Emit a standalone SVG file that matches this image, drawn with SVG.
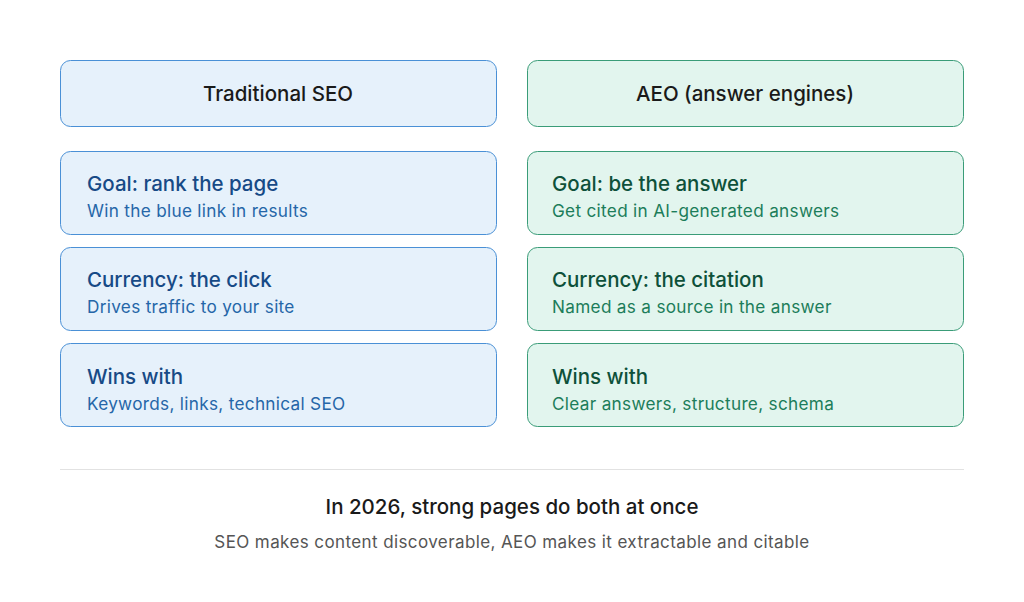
<svg xmlns="http://www.w3.org/2000/svg" width="1024" height="602" viewBox="0 0 1024 602">
<style>
text{font-family:"Inter","Liberation Sans",sans-serif}
.b{fill:#e6f1fb;stroke:#4a90d6;stroke-width:1}
.g{fill:#e2f5ee;stroke:#3a9c78;stroke-width:1}
.h{font-size:20.5px;fill:#1a1a1a;text-anchor:middle;font-weight:500}
.bt{font-size:20.5px;fill:#174a86;font-weight:500}
.bs{font-size:17.2px;fill:#2566a8;letter-spacing:0.3px}
.gt{font-size:20.5px;fill:#0e513a;font-weight:500}
.gs{font-size:17.2px;fill:#1c7d5a;letter-spacing:0.3px}
</style>
<rect width="1024" height="602" fill="#fff"/>
<g id="seo-header"><rect class="b" x="60.5" y="60.5" width="436" height="66" rx="10"/><text class="h" x="278" y="101">Traditional SEO</text></g>
<g id="aeo-header"><rect class="g" x="527.5" y="60.5" width="436" height="66" rx="10"/><text class="h" x="745" y="101">AEO (answer engines)</text></g>
<g id="seo-goal"><rect class="b" x="60.5" y="151.5" width="436" height="83" rx="10"/><text class="bt" x="87" y="191">Goal: rank the page</text><text class="bs" x="87" y="217">Win the blue link in results</text></g>
<g id="aeo-goal"><rect class="g" x="527.5" y="151.5" width="436" height="83" rx="10"/><text class="gt" x="552" y="191">Goal: be the answer</text><text class="gs" x="552" y="217">Get cited in AI-generated answers</text></g>
<g id="seo-currency"><rect class="b" x="60.5" y="247.5" width="436" height="83" rx="10"/><text class="bt" x="87" y="287">Currency: the click</text><text class="bs" x="87" y="313">Drives traffic to your site</text></g>
<g id="aeo-currency"><rect class="g" x="527.5" y="247.5" width="436" height="83" rx="10"/><text class="gt" x="552" y="287">Currency: the citation</text><text class="gs" x="552" y="313">Named as a source in the answer</text></g>
<g id="seo-wins"><rect class="b" x="60.5" y="343.5" width="436" height="83" rx="10"/><text class="bt" x="87" y="384">Wins with</text><text class="bs" x="87" y="410">Keywords, links, technical SEO</text></g>
<g id="aeo-wins"><rect class="g" x="527.5" y="343.5" width="436" height="83" rx="10"/><text class="gt" x="552" y="384">Wins with</text><text class="gs" x="552" y="410">Clear answers, structure, schema</text></g>
<g id="connectors"></g>
<line x1="60" y1="469.5" x2="964" y2="469.5" stroke="#e2e2e2" stroke-width="1"/>
<text x="512" y="514" font-size="20.5" fill="#1a1a1a" text-anchor="middle" font-weight="500">In 2026, strong pages do both at once</text>
<text x="512" y="548" font-size="17" fill="#555" text-anchor="middle" letter-spacing="0.4">SEO makes content discoverable, AEO makes it extractable and citable</text>
</svg>
